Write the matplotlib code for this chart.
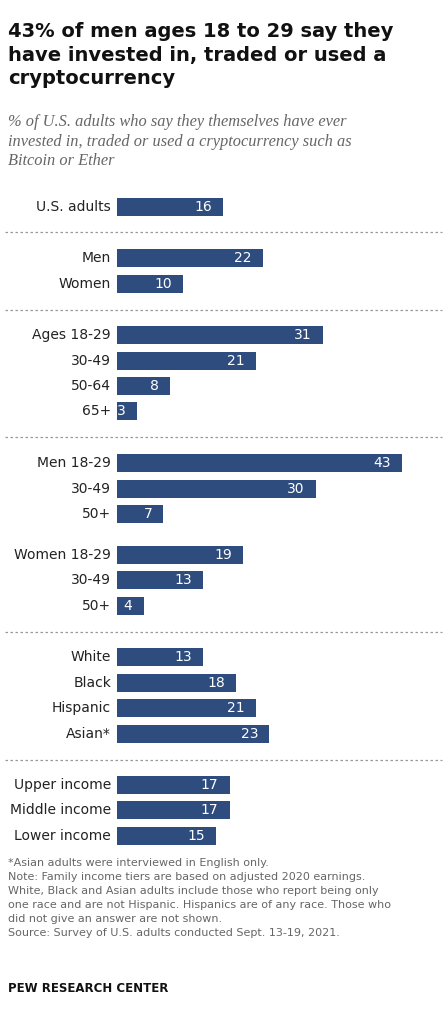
import matplotlib
matplotlib.use("Agg")
import matplotlib.pyplot as plt

categories = ["U.S. adults", "Men", "Women", "Ages 18-29", "30-49", "50-64", "65+",
              "Men 18-29", "30-49", "50+", "Women 18-29", "30-49", "50+",
              "White", "Black", "Hispanic", "Asian*", "Upper income", "Middle income", "Lower income"]
values = [16, 22, 10, 31, 21, 8, 3, 43, 30, 7, 19, 13, 4, 13, 18, 21, 23, 17, 17, 15]
row_y = [207, 258, 284, 335, 361, 386, 411, 463, 489, 514, 555, 580, 606,
         657, 683, 708, 734, 785, 810, 836]
sep_y = [232, 310, 437, 632, 760]

W, H = 448, 1024
fig = plt.figure(figsize=(W/100, H/100), dpi=100)
ppu = 6.63
left = 117
ax = fig.add_axes([left/W, 0, 1 - left/W, 1])
ax.set_xlim(0, (W - left)/ppu)
ax.set_ylim(H, 0)
ax.axis("off")
col = "#2E4C7E"
ax.barh(row_y, values, height=18, color=col)
for y, v, c in zip(row_y, values, categories):
    ax.text(v - 1.7, y, str(v), color="white", ha="right", va="center", fontsize=10)
    ax.text(-6/ppu, y, c, color="#222222", ha="right", va="center", fontsize=10)
for y in sep_y:
    ax.plot([-112/ppu, (442-left)/ppu], [y, y], ls=(0, (2, 2)), color="#999999", lw=0.9, clip_on=False)

fig.text(8/W, 1-22/H, "43% of men ages 18 to 29 say they\nhave invested in, traded or used a\ncryptocurrency",
         fontsize=14, fontweight="bold", va="top", ha="left", linespacing=1.3, color="#111111")
fig.text(8/W, 1-114/H, "% of U.S. adults who say they themselves have ever\ninvested in, traded or used a cryptocurrency such as\nBitcoin or Ether",
         fontsize=11.8, style="italic", family="Liberation Serif", va="top", ha="left", linespacing=1.3, color="#666666")
fig.text(8/W, 1-858/H, "*Asian adults were interviewed in English only.\nNote: Family income tiers are based on adjusted 2020 earnings.\nWhite, Black and Asian adults include those who report being only\none race and are not Hispanic. Hispanics are of any race. Those who\ndid not give an answer are not shown.\nSource: Survey of U.S. adults conducted Sept. 13-19, 2021.",
         fontsize=8, va="top", ha="left", linespacing=1.5, color="#666666")
fig.text(8/W, 1-988/H, "PEW RESEARCH CENTER", fontsize=8.5, fontweight="bold", va="center", ha="left", color="#111111")
fig.savefig("out.png", dpi=100)
